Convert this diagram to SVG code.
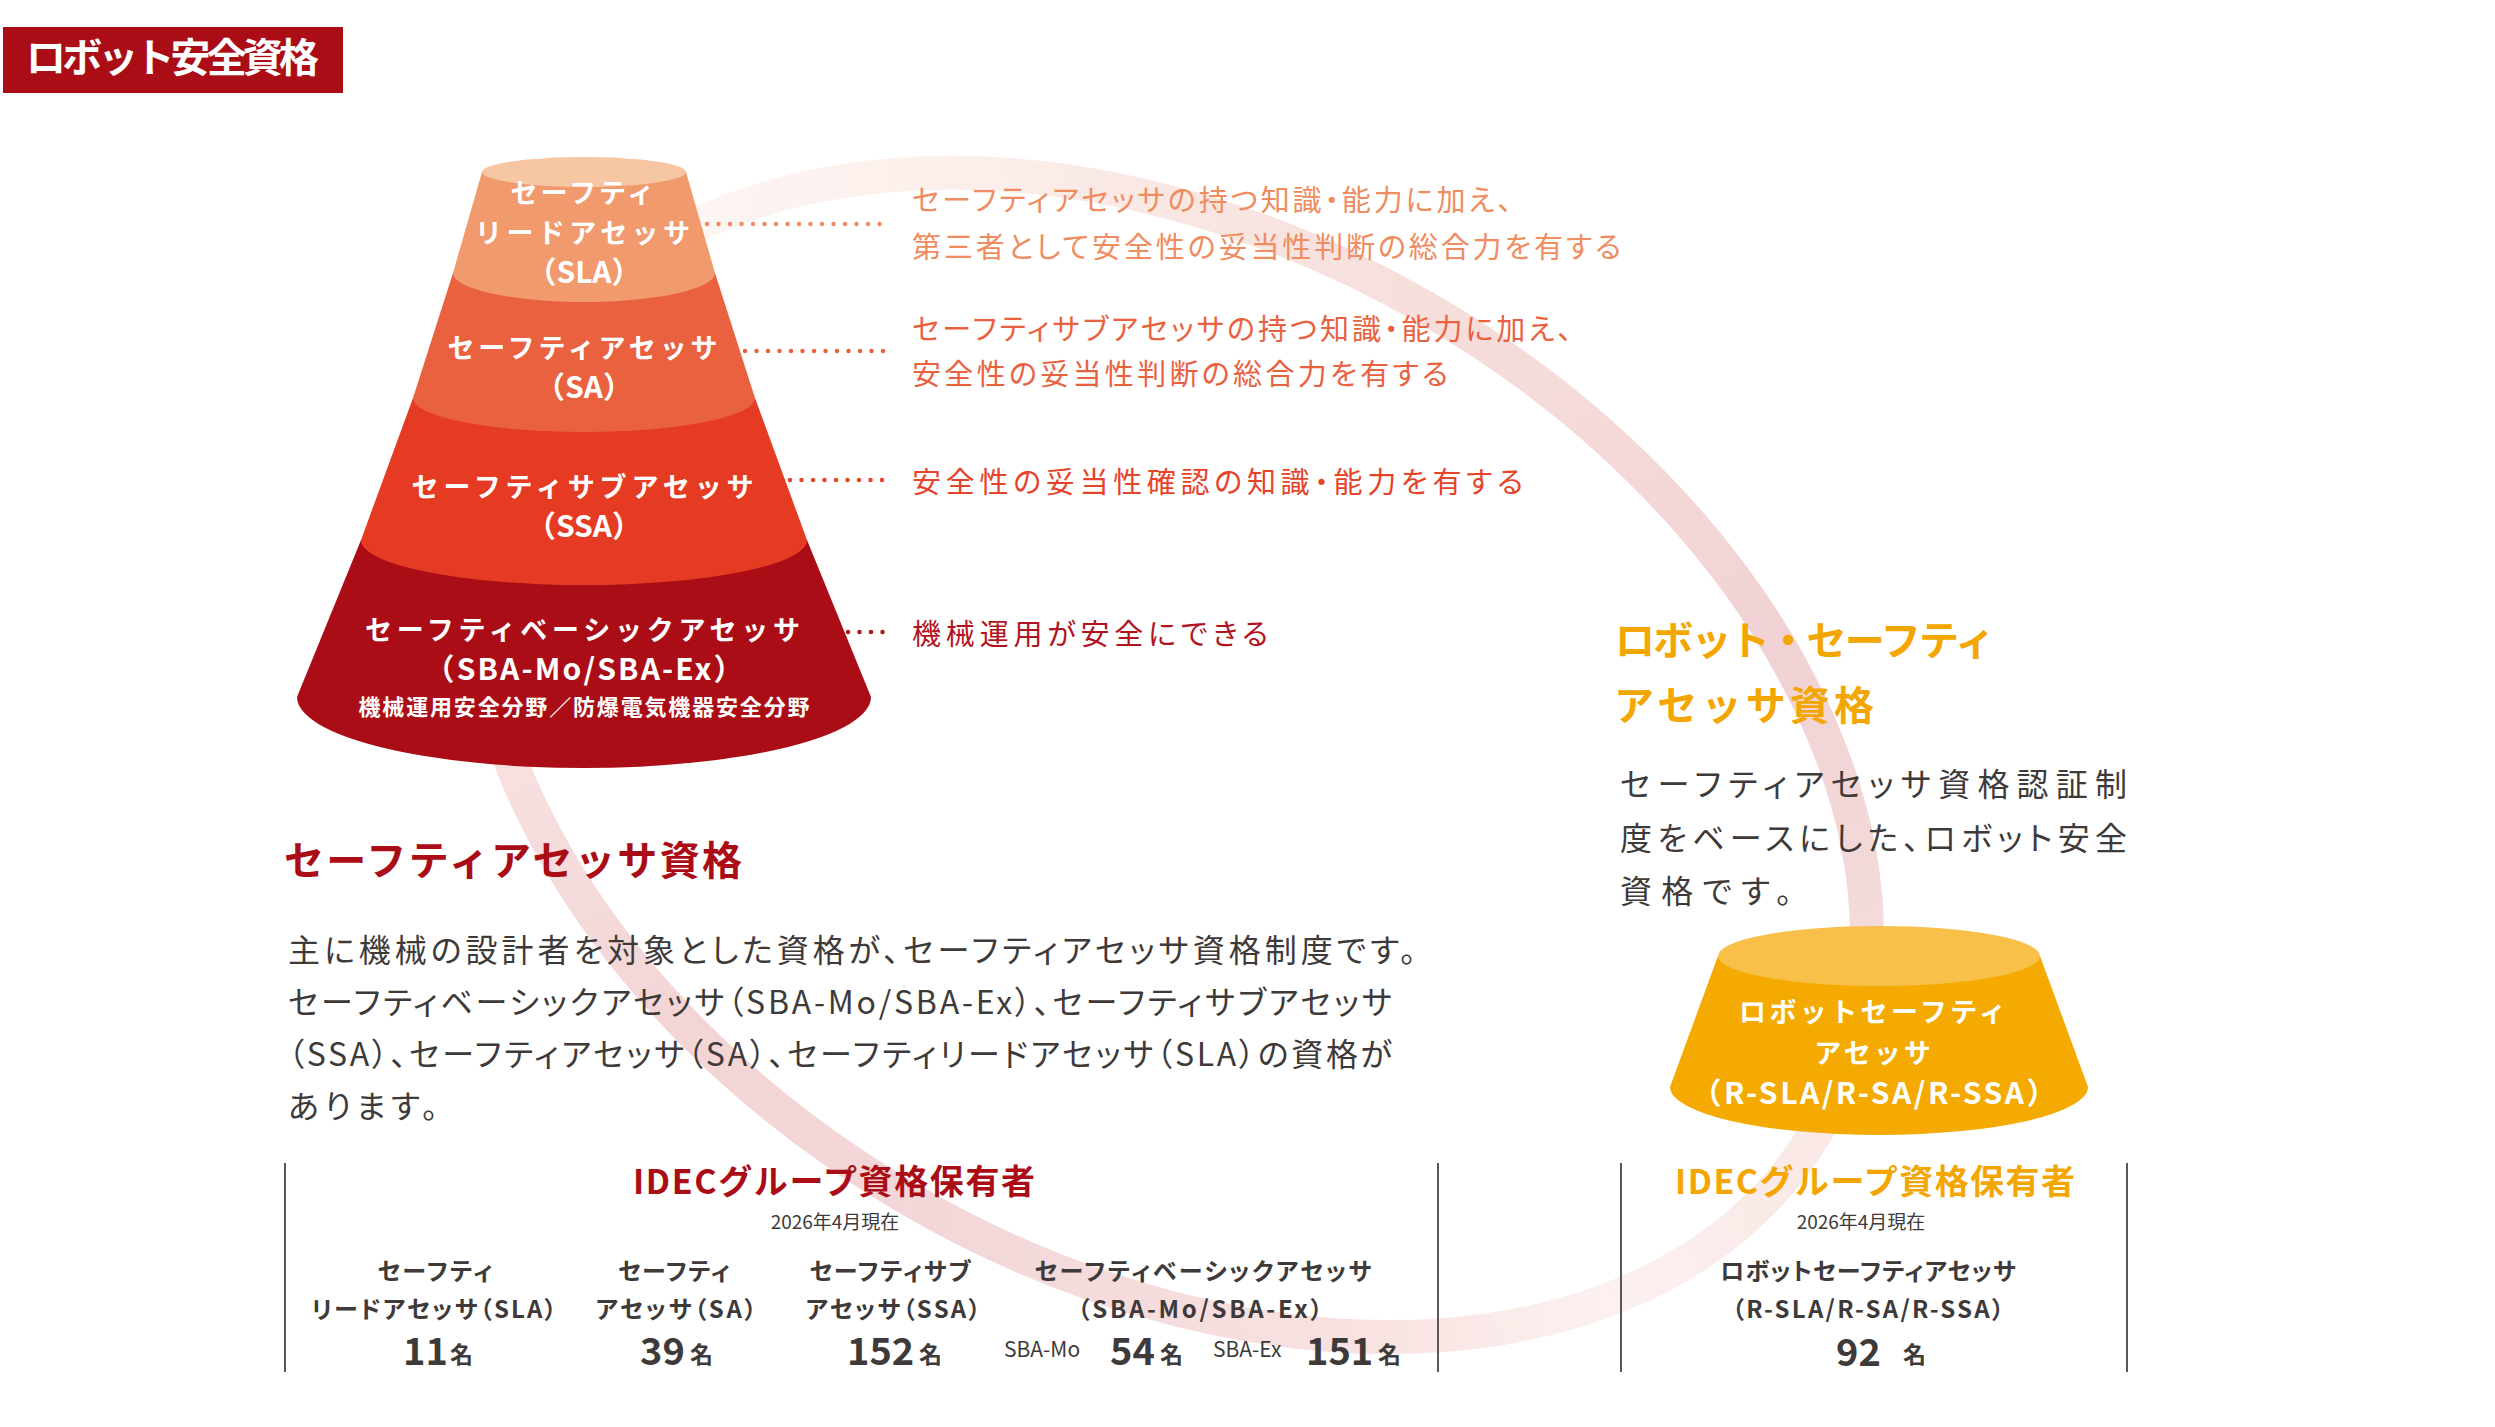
<svg xmlns="http://www.w3.org/2000/svg" width="2495" height="1427" viewBox="0 0 2495 1427">
<defs>
<style>
text{font-family:'Noto Sans CJK JP','Noto Sans',sans-serif}
.b{font-weight:700}
.w{fill:#fff;font-weight:700}
.g{fill:#3e3a39}
.red{fill:#ab0d17}
.yel{fill:#f4a600}
.lbl{font-size:27px;letter-spacing:3px;text-anchor:middle}
.par{font-size:30px;letter-spacing:0;text-anchor:middle}
.desc{font-size:29px;font-feature-settings:"palt"}
.body{font-size:32px;font-feature-settings:"palt"}
.th{font-size:24px;font-weight:700;fill:#3e3a39;text-anchor:middle;font-feature-settings:"palt"}
.num{font-size:38px;font-weight:700;fill:#3e3a39}
.mei{font-size:23px;font-weight:700;fill:#3e3a39}
.sub{font-size:21px;fill:#3e3a39}
.date{font-size:19px;fill:#3e3a39;text-anchor:middle}
.dot{fill:none;stroke-width:4.5;stroke-linecap:round;stroke-dasharray:0 11.5}
.ring{fill:none;stroke-width:34}
.vl{stroke:#595757;stroke-width:2}
</style>
<linearGradient id="r1" gradientUnits="userSpaceOnUse" x1="522" y1="381" x2="1427.5" y2="309">
<stop offset="0" stop-color="#f8e4e2"/><stop offset="0.21" stop-color="#fdf5f2"/><stop offset="0.5" stop-color="#fcefeb"/><stop offset="1" stop-color="#f6dedb"/>
</linearGradient>
<linearGradient id="r2" gradientUnits="userSpaceOnUse" x1="1427.5" y1="309" x2="1817.8" y2="1129">
<stop offset="0" stop-color="#f6dedb"/><stop offset="0.5" stop-color="#f1d2d4"/><stop offset="0.82" stop-color="#f4dada"/><stop offset="1" stop-color="#f9e8e6"/>
</linearGradient>
<linearGradient id="r3" gradientUnits="userSpaceOnUse" x1="1817.8" y1="1129" x2="912.5" y2="1201">
<stop offset="0" stop-color="#f9e8e6"/><stop offset="0.25" stop-color="#fcf1ef"/><stop offset="0.5" stop-color="#f8e3e2"/><stop offset="1" stop-color="#f3d6d7"/>
</linearGradient>
<linearGradient id="r4" gradientUnits="userSpaceOnUse" x1="912.5" y1="1201" x2="522" y2="381">
<stop offset="0" stop-color="#f3d6d7"/><stop offset="0.3" stop-color="#f3d5d6"/><stop offset="0.65" stop-color="#f7e1e0"/><stop offset="1" stop-color="#f8e4e2"/>
</linearGradient>
</defs>
<rect width="2495" height="1427" fill="#fff"/>

<g id="ring">
<path class="ring" stroke="url(#r1)" d="M522 381 A748 515 30 0 1 1427.5 309"/>
<path class="ring" stroke="url(#r2)" d="M1427.5 309 A748 515 30 0 1 1817.8 1129"/>
<path class="ring" stroke="url(#r3)" d="M1817.8 1129 A748 515 30 0 1 912.5 1201"/>
<path class="ring" stroke="url(#r4)" d="M912.5 1201 A748 515 30 0 1 522 381"/>
</g>

<g id="header">
<rect x="3" y="27" width="340" height="66" fill="#ab0d17"/>
<text x="26" y="72" class="w" font-size="40" textLength="293" lengthAdjust="spacing">ロボット安全資格</text>
</g>

<g id="node-sba">
<path d="M361 540 L297 697 A287 71 0 0 0 871 697 L807 540 Z" fill="#ab0d17"/>
<text class="w lbl" x="584" y="640" textLength="438" lengthAdjust="spacing">セーフティベーシックアセッサ</text>
<text class="w par" x="584" y="680" textLength="319" lengthAdjust="spacing">（SBA-Mo/SBA-Ex）</text>
<text class="w" x="584" y="715" font-size="22" text-anchor="middle" textLength="451" lengthAdjust="spacing">機械運用安全分野／防爆電気機器安全分野</text>
</g>
<g id="node-ssa">
<path d="M413 398 L361 540 A223 45 0 0 0 807 540 L755 398 Z" fill="#e63b23"/>
<text class="w lbl" x="584" y="497" textLength="345" lengthAdjust="spacing">セーフティサブアセッサ</text>
<text class="w par" x="584" y="537">（SSA）</text>
</g>
<g id="node-sa">
<path d="M453 273 L413 398 A171 34 0 0 0 755 398 L715 273 Z" fill="#ea6140"/>
<text class="w lbl" x="584" y="358" textLength="273" lengthAdjust="spacing">セーフティアセッサ</text>
<text class="w par" x="584" y="398">（SA）</text>
</g>
<g id="node-sla">
<path d="M482 172 L453 273 A131 29 0 0 0 715 273 L686 172 Z" fill="#f09a6e"/>
<ellipse cx="584" cy="172" rx="102" ry="15" fill="#f7c6a3"/>
<text class="w lbl" x="584" y="203">セーフティ</text>
<text class="w lbl" x="584" y="243" textLength="218" lengthAdjust="spacing">リードアセッサ</text>
<text class="w par" x="584" y="283">（SLA）</text>
</g>

<g id="connectors">
<line class="dot" stroke="#ef8c60" x1="707" y1="224" x2="891" y2="224"/>
<line class="dot" stroke="#ea6140" x1="745" y1="351" x2="884" y2="351"/>
<line class="dot" stroke="#e6432a" x1="790" y1="480" x2="883" y2="480"/>
<line class="dot" stroke="#b2141f" x1="848" y1="632" x2="883" y2="632"/>
</g>

<g id="desc-sla" fill="#ef8c60">
<text class="desc" x="912" y="211" textLength="600" lengthAdjust="spacing">セーフティアセッサの持つ知識・能力に加え、</text>
<text class="desc" x="912" y="258" textLength="709" lengthAdjust="spacing">第三者として安全性の妥当性判断の総合力を有する</text>
</g>
<g id="desc-sa" fill="#ea6140">
<text class="desc" x="912" y="340" textLength="660" lengthAdjust="spacing">セーフティサブアセッサの持つ知識・能力に加え、</text>
<text class="desc" x="912" y="385" textLength="536" lengthAdjust="spacing">安全性の妥当性判断の総合力を有する</text>
</g>
<g id="desc-ssa" fill="#e6432a">
<text class="desc" x="912" y="493" textLength="611" lengthAdjust="spacing">安全性の妥当性確認の知識・能力を有する</text>
</g>
<g id="desc-sba" fill="#b2141f">
<text class="desc" x="912" y="645" textLength="356" lengthAdjust="spacing">機械運用が安全にできる</text>
</g>

<g id="robot-title">
<text class="yel b" x="1615" y="655" font-size="40" textLength="380" lengthAdjust="spacing">ロボット・セーフティ</text>
<text class="yel b" x="1614" y="720" font-size="40" textLength="260" lengthAdjust="spacing">アセッサ資格</text>
<text class="g body" x="1620" y="796" textLength="507" lengthAdjust="spacing">セーフティアセッサ資格認証制</text>
<text class="g body" x="1620" y="850" textLength="507" lengthAdjust="spacing">度をベースにした、ロボット安全</text>
<text class="g body" x="1620" y="903" textLength="172" lengthAdjust="spacing">資格です。</text>
</g>

<g id="node-robot">
<path d="M1718 956 L1670 1087 A209 48 0 0 0 2088 1087 L2040 956 Z" fill="#f4aa00"/>
<ellipse cx="1879" cy="956" rx="161" ry="30" fill="#f8c048"/>
<text class="w lbl" x="1874" y="1022" textLength="270" lengthAdjust="spacing">ロボットセーフティ</text>
<text class="w lbl" x="1874" y="1063">アセッサ</text>
<text class="w par" x="1874" y="1104" textLength="365" lengthAdjust="spacing">（R-SLA/R-SA/R-SSA）</text>
</g>

<g id="sa-title">
<text class="red b" x="284" y="875" font-size="40" textLength="458" lengthAdjust="spacing">セーフティアセッサ資格</text>
<text class="g body" x="288" y="962" textLength="1128" lengthAdjust="spacing">主に機械の設計者を対象とした資格が、セーフティアセッサ資格制度です。</text>
<text class="g body" x="288" y="1014" textLength="1104" lengthAdjust="spacing">セーフティベーシックアセッサ（SBA-Mo/SBA-Ex）、セーフティサブアセッサ</text>
<text class="g body" x="288" y="1066" textLength="1104" lengthAdjust="spacing">（SSA）、セーフティアセッサ（SA）、セーフティリードアセッサ（SLA）の資格が</text>
<text class="g body" x="288" y="1118" textLength="150" lengthAdjust="spacing">あります。</text>
</g>

<g id="table-sa">
<line class="vl" x1="285" y1="1163" x2="285" y2="1372"/>
<line class="vl" x1="1438" y1="1163" x2="1438" y2="1372"/>
<text class="red b" x="834" y="1194" font-size="34" text-anchor="middle" textLength="402" lengthAdjust="spacing">IDECグループ資格保有者</text>
<text class="date" x="835" y="1229">2026年4月現在</text>
<text class="th" x="435" y="1280" textLength="115" lengthAdjust="spacing">セーフティ</text>
<text class="th" x="434" y="1318" textLength="245" lengthAdjust="spacing">リードアセッサ（SLA）</text>
<text class="th" x="674" y="1280" textLength="112" lengthAdjust="spacing">セーフティ</text>
<text class="th" x="676" y="1318" textLength="161" lengthAdjust="spacing">アセッサ（SA）</text>
<text class="th" x="890" y="1280" textLength="161" lengthAdjust="spacing">セーフティサブ</text>
<text class="th" x="893" y="1318" textLength="175" lengthAdjust="spacing">アセッサ（SSA）</text>
<text class="th" x="1203" y="1280" textLength="337" lengthAdjust="spacing">セーフティベーシックアセッサ</text>
<text class="th" x="1200" y="1318" textLength="245" lengthAdjust="spacing">（SBA-Mo/SBA-Ex）</text>
<text class="num" x="403" y="1365">11</text><text class="mei" x="450" y="1363">名</text>
<text class="num" x="640" y="1365">39</text><text class="mei" x="690" y="1363">名</text>
<text class="num" x="847" y="1365">152</text><text class="mei" x="919" y="1363">名</text>
<text class="sub" x="1004" y="1357">SBA-Mo</text>
<text class="num" x="1110" y="1365">54</text><text class="mei" x="1160" y="1363">名</text>
<text class="sub" x="1213" y="1357">SBA-Ex</text>
<text class="num" x="1306" y="1365">151</text><text class="mei" x="1378" y="1363">名</text>
</g>

<g id="table-robot">
<line class="vl" x1="1621" y1="1163" x2="1621" y2="1372"/>
<line class="vl" x1="2127" y1="1163" x2="2127" y2="1372"/>
<text class="yel b" x="1875" y="1194" font-size="34" text-anchor="middle" textLength="400" lengthAdjust="spacing">IDECグループ資格保有者</text>
<text class="date" x="1861" y="1229">2026年4月現在</text>
<text class="th" x="1868" y="1280" textLength="296" lengthAdjust="spacing">ロボットセーフティアセッサ</text>
<text class="th" x="1868" y="1318" textLength="272" lengthAdjust="spacing">（R-SLA/R-SA/R-SSA）</text>
<text class="num" x="1836" y="1366" font-size="40">92</text><text class="mei" x="1903" y="1363">名</text>
</g>
</svg>
